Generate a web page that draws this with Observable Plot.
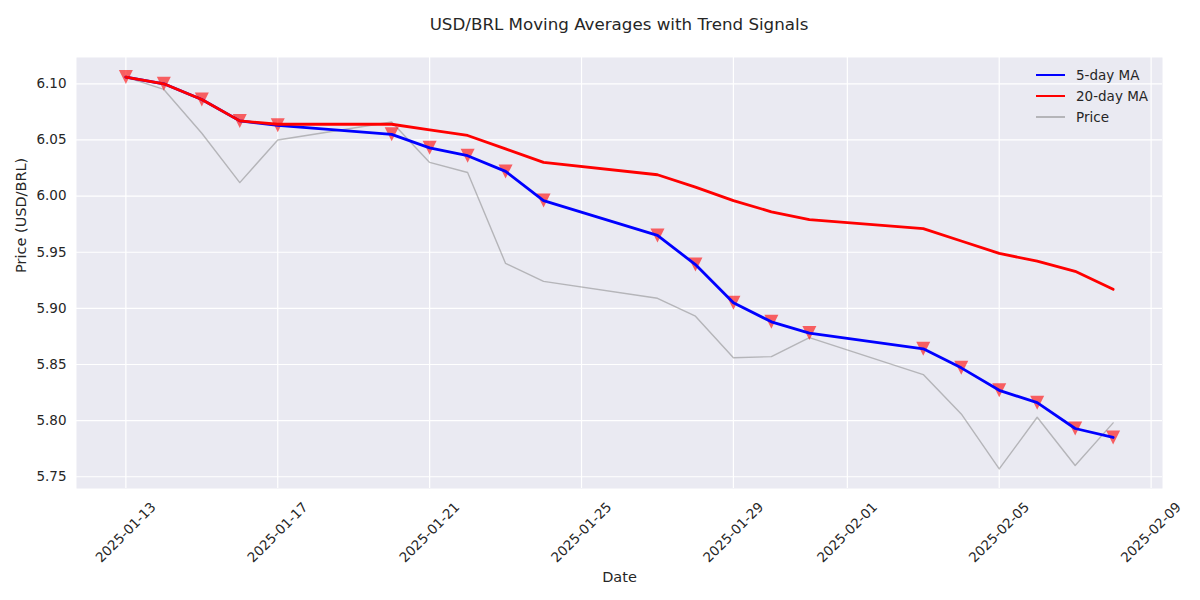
<!DOCTYPE html>
<html>
<head>
<meta charset="utf-8">
<script src="https://cdn.jsdelivr.net/npm/d3@7"></script>
<script src="https://cdn.jsdelivr.net/npm/@observablehq/plot@0.6"></script>
<style>
  html, body { margin: 0; padding: 0; background: white; overflow: hidden; }
  #wrap { position: relative; width: 1200px; height: 600px; font-family: "DejaVu Sans", sans-serif; color: #262626; }
  #title { position: absolute; left: 38px; width: 1162px; top: 14px; line-height: 20px; font-size: 16.7px; text-align: center; }
  #chart { position: absolute; left: 0; top: 45px; }
  .lg-line { position: absolute; }
  .lg-text { position: absolute; font-size: 13.5px; line-height: 20px; height: 20px; white-space: nowrap; }
</style>
</head>
<body>
<div id="wrap">
  <div id="title">USD/BRL Moving Averages with Trend Signals</div>
  <div id="chart"></div>
  <div id="legend"></div>
</div>
<script>
// ---- data ----
const dates = [
  "2025-01-13","2025-01-14","2025-01-15","2025-01-16","2025-01-17",
  "2025-01-20","2025-01-21","2025-01-22","2025-01-23","2025-01-24",
  "2025-01-27","2025-01-28","2025-01-29","2025-01-30","2025-01-31",
  "2025-02-03","2025-02-04","2025-02-05","2025-02-06","2025-02-07","2025-02-08"
];
const price = [6.106, 6.095, 6.056, 6.012, 6.050, 6.066, 6.030, 6.021, 5.940, 5.924,
               5.909, 5.893, 5.856, 5.857, 5.874, 5.841, 5.806, 5.757, 5.803, 5.760, 5.798];
const ma5   = [6.106, 6.100, 6.086, 6.067, 6.063, 6.055, 6.043, 6.036, 6.022, 5.996,
               5.965, 5.939, 5.905, 5.888, 5.878, 5.864, 5.847, 5.827, 5.816, 5.793, 5.785];
const ma20  = [6.106, 6.100, 6.086, 6.067, 6.064, 6.064, 6.059, 6.054, 6.042, 6.030,
               6.019, 6.008, 5.996, 5.986, 5.979, 5.971, 5.960, 5.949, 5.942, 5.933, 5.917];
const signals = ["sell","sell","sell","sell","sell","sell","sell","sell","sell","sell",
                 "sell","sell","sell","sell","sell","sell","sell","sell","sell","sell","sell"];
const xTickLabels = ["2025-01-13","2025-01-17","2025-01-21","2025-01-25","2025-01-29","2025-02-01","2025-02-05","2025-02-09"];
const yTickValues = [5.75, 5.80, 5.85, 5.90, 5.95, 6.00, 6.05, 6.10];
const seriesNames = ["5-day MA", "20-day MA", "Price"];
const seriesColors = ["blue", "red", "gray"];

// ---- build table ----
const parse = d => new Date(d + "T00:00:00Z");
const rows = dates.map((d, i) => ({date: parse(d), price: price[i], ma5: ma5[i], ma20: ma20[i], signal: signals[i]}));
const sellRows = rows.filter(r => r.signal === "sell");
const xTicks = xTickLabels.map(parse);

// matplotlib-like 5% margins
const xe = d3.extent(rows, r => +r.date);
const xPad = (xe[1] - xe[0]) * 0.05;
const xDomain = [new Date(xe[0] - xPad), new Date(xe[1] + xPad)];
const allY = [...price, ...ma5, ...ma20];
const ye = d3.extent(allY);
const yPad = (ye[1] - ye[0]) * 0.05;
const yDomain = [ye[0] - yPad, ye[1] + yPad];

const triDown = {
  draw(context, size) {
    const r = Math.sqrt(size / Math.PI);
    context.moveTo(-r, -r);
    context.lineTo(r, -r);
    context.lineTo(0, r);
    context.closePath();
  }
};

const fmtDate = d3.utcFormat("%Y-%m-%d");

const chart = Plot.plot({
  width: 1200,
  height: 555,
  marginTop: 12,
  marginBottom: 112,
  marginLeft: 76,
  marginRight: 38,
  style: {background: "white", fontFamily: "DejaVu Sans, sans-serif", fontSize: "13.5px", color: "#262626"},
  x: {type: "utc", domain: xDomain, axis: null},
  y: {domain: yDomain, axis: null},
  marks: [
    Plot.frame({fill: "#eaeaf2", stroke: "none"}),
    Plot.ruleX(xTicks, {x: d => d, stroke: "white", strokeWidth: 1.2, clip: "frame"}),
    Plot.ruleY(yTickValues, {y: d => d, stroke: "white", strokeWidth: 1.2, clip: "frame"}),
    Plot.text(yTickValues, {y: d => d, text: d => d3.format(".2f")(d), frameAnchor: "left", dx: -10,
                            textAnchor: "end", lineAnchor: "middle", fill: "#262626"}),
    Plot.text(xTicks, {x: d => d, text: d => fmtDate(d), frameAnchor: "bottom", dy: 44, rotate: -45,
                       textAnchor: "middle", lineAnchor: "middle", fill: "#262626"}),
    Plot.line(rows, {x: "date", y: "price", stroke: "gray", strokeOpacity: 0.5, strokeWidth: 1.4}),
    Plot.dot(sellRows, {x: "date", y: "ma5", symbol: triDown, r: 7, fill: "red", fillOpacity: 0.6, stroke: "none"}),
    Plot.line(rows, {x: "date", y: "ma5", stroke: "blue", strokeWidth: 2.8}),
    Plot.line(rows, {x: "date", y: "ma20", stroke: "red", strokeWidth: 2.8}),
    Plot.text(["Date"], {frameAnchor: "bottom", dy: 89, lineAnchor: "middle", fontSize: 14.5, fill: "#262626"}),
    Plot.text(["Price (USD/BRL)"], {frameAnchor: "left", rotate: -90, dx: -55, lineAnchor: "middle", fontSize: 14.5, fill: "#262626"})
  ]
});
document.getElementById("chart").appendChild(chart);

// ---- legend (upper right, frameless like seaborn darkgrid) ----
const legend = document.getElementById("legend");
const lgWidths = [2.8, 2.8, 1.4];
const lgOpac = [1, 1, 0.5];
seriesNames.forEach((name, i) => {
  const cy = 75 + i * 21;
  const ln = document.createElement("div");
  ln.className = "lg-line";
  ln.style.left = "1036px";
  ln.style.width = "29px";
  ln.style.top = (cy - lgWidths[i] / 2) + "px";
  ln.style.height = lgWidths[i] + "px";
  ln.style.background = seriesColors[i];
  ln.style.opacity = lgOpac[i];
  legend.appendChild(ln);
  const tx = document.createElement("div");
  tx.className = "lg-text";
  tx.style.left = "1076px";
  tx.style.top = (cy - 10) + "px";
  tx.textContent = name;
  legend.appendChild(tx);
});
</script>
</body>
</html>
